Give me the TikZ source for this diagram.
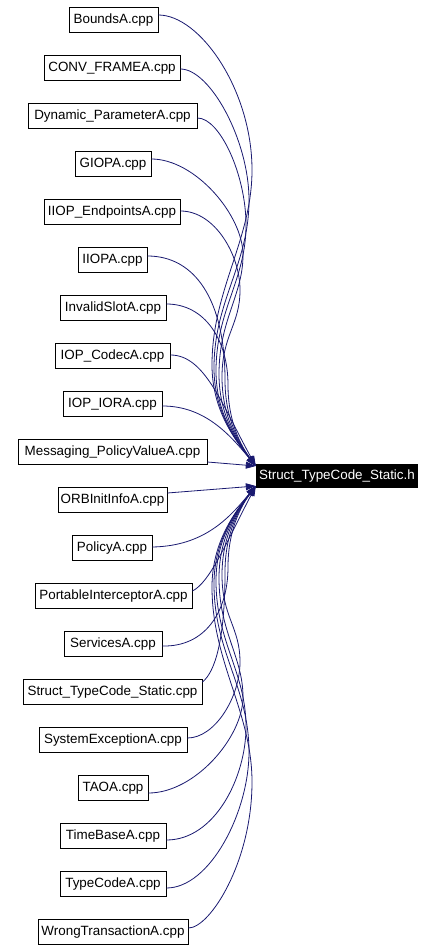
\documentclass[tikz,border=0pt]{standalone}
\usepackage{fontspec}
\setmainfont{Liberation Sans}
\usetikzlibrary{arrows.meta}
\definecolor{edgeblue}{RGB}{25,25,112}
\tikzset{
  box/.style={draw, line width=0.9pt, minimum height=25pt, inner sep=0pt, font=\fontsize{13.4}{15}\selectfont},
  tgt/.style={fill=black, text=white, minimum height=24pt, minimum width=162pt, inner sep=0pt, font=\fontsize{13.4}{15}\selectfont},
  edge/.style={draw=edgeblue, line width=0.8pt, -{Triangle[length=10pt,width=7pt,fill=edgeblue]}}
}
\begin{document}
\begin{tikzpicture}[x=1pt,y=-1pt]
\useasboundingbox (0,0) rectangle (435,950);
\node[box, minimum width=89pt]  (n0)  at (113.5,20)  {BoundsA.cpp};
\node[box, minimum width=136pt] (n1)  at (112,68)    {CONV\_FRAMEA.cpp};
\node[box, minimum width=169pt] (n2)  at (112.5,116) {Dynamic\_ParameterA.cpp};
\node[box, minimum width=76pt]  (n3)  at (113,164)   {GIOPA.cpp};
\node[box, minimum width=136pt] (n4)  at (112,212)   {IIOP\_EndpointsA.cpp};
\node[box, minimum width=69pt]  (n5)  at (112.5,260) {IIOPA.cpp};
\node[box, minimum width=106pt] (n6)  at (113,308)   {InvalidSlotA.cpp};
\node[box, minimum width=115pt] (n7)  at (112.5,356) {IOP\_CodecA.cpp};
\node[box, minimum width=99pt]  (n8)  at (112.5,404) {IOP\_IORA.cpp};
\node[box, minimum width=189pt] (n9)  at (112.5,452) {Messaging\_PolicyValueA.cpp};
\node[box, minimum width=109pt] (n10) at (112.5,500) {ORBInitInfoA.cpp};
\node[box, minimum width=80pt]  (n11) at (112,548)   {PolicyA.cpp};
\node[box, minimum width=157pt] (n12) at (113.5,596) {PortableInterceptorA.cpp};
\node[box, minimum width=98pt]  (n13) at (113,644)   {ServicesA.cpp};
\node[box, minimum width=179pt] (n14) at (112.5,692) {Struct\_TypeCode\_Static.cpp};
\node[box, minimum width=148pt] (n15) at (113,740)   {SystemExceptionA.cpp};
\node[box, minimum width=70pt]  (n16) at (113,788)   {TAOA.cpp};
\node[box, minimum width=106pt] (n17) at (113,836)   {TimeBaseA.cpp};
\node[box, minimum width=106pt] (n18) at (113,884)   {TypeCodeA.cpp};
\node[box, minimum width=150pt] (n19) at (113,932)   {WrongTransactionA.cpp};
\node[tgt] (T) at (337,476) {Struct\_TypeCode\_Static.h};
% upper edges
\draw[edge] ([yshift=5pt]n0.east) .. controls (200,15) and (252,90) .. (252,170) .. controls (252,240) and (212,290) .. (212,365) .. controls (212,410) and (235,440) .. ([yshift=10pt]T.west);
\draw[edge] ([yshift=-1pt]n1.east) .. controls (210,69) and (249,140) .. (249,200) .. controls (249,265) and (214,300) .. (214,368) .. controls (214,412) and (236,441) .. ([yshift=10pt]T.west);
\draw[edge] ([yshift=-2pt]n2.east) .. controls (220,118) and (246,175) .. (246,225) .. controls (246,280) and (216,310) .. (216,371) .. controls (216,414) and (237,442) .. ([yshift=10pt]T.west);
\draw[edge] ([yshift=5pt]n3.east) .. controls (195,159) and (243,215) .. (243,255) .. controls (243,295) and (219,320) .. (219,374) .. controls (219,416) and (238,443) .. ([yshift=10pt]T.west);
\draw[edge] ([yshift=1pt]n4.east) .. controls (215,211) and (240,255) .. (240,290) .. controls (240,325) and (222,335) .. (222,377) .. controls (222,418) and (239,444) .. ([yshift=10pt]T.west);
\draw[edge] ([yshift=4pt]n5.east) .. controls (195,256) and (225,300) .. (225,380) .. controls (225,420) and (240,445) .. ([yshift=10pt]T.west);
\draw[edge] ([yshift=4pt]n6.east) .. controls (205,304) and (228,340) .. (228,385) .. controls (228,422) and (241,446) .. ([yshift=10pt]T.west);
\draw[edge] ([yshift=1pt]n7.east) .. controls (205,355) and (222,405) .. ([yshift=10pt]T.west);
\draw[edge] ([yshift=-2pt]n8.east) .. controls (205,406) and (230,435) .. ([yshift=10pt]T.west);
\draw[edge] ([yshift=-10pt]n9.east) -- ([yshift=10pt]T.west);
% lower edges
\draw[edge] ([yshift=7pt]n10.east) -- ([yshift=-10pt]T.west);
\draw[edge] ([yshift=1pt]n11.east) .. controls (205,546) and (230,517) .. ([yshift=-10pt]T.west);
\draw[edge] ([yshift=5pt]n12.east) .. controls (210,582) and (225,545) .. ([yshift=-10pt]T.west);
\draw[edge] ([yshift=-2pt]n13.east) .. controls (205,647) and (228,612) .. (228,567) .. controls (228,530) and (241,506) .. ([yshift=-10pt]T.west);
\draw[edge] ([yshift=10pt]n14.east) .. controls (215,672) and (225,640) .. (225,572) .. controls (225,532) and (240,507) .. ([yshift=-10pt]T.west);
\draw[edge] ([yshift=2pt]n15.east) .. controls (215,738) and (240,697) .. (240,662) .. controls (240,627) and (222,617) .. (222,575) .. controls (222,534) and (239,508) .. ([yshift=-10pt]T.west);
\draw[edge] ([yshift=-5pt]n16.east) .. controls (195,793) and (243,737) .. (243,697) .. controls (243,657) and (219,632) .. (219,578) .. controls (219,536) and (238,509) .. ([yshift=-10pt]T.west);
\draw[edge] ([yshift=-4pt]n17.east) .. controls (215,840) and (246,777) .. (246,727) .. controls (246,672) and (216,642) .. (216,581) .. controls (216,538) and (237,510) .. ([yshift=-10pt]T.west);
\draw[edge] ([yshift=-4pt]n18.east) .. controls (210,888) and (249,812) .. (249,752) .. controls (249,687) and (214,652) .. (214,584) .. controls (214,540) and (236,511) .. ([yshift=-10pt]T.west);
\draw[edge] ([yshift=4pt]n19.east) .. controls (210,928) and (252,862) .. (252,782) .. controls (252,712) and (212,662) .. (212,587) .. controls (212,542) and (235,512) .. ([yshift=-10pt]T.west);
\end{tikzpicture}
\end{document}
